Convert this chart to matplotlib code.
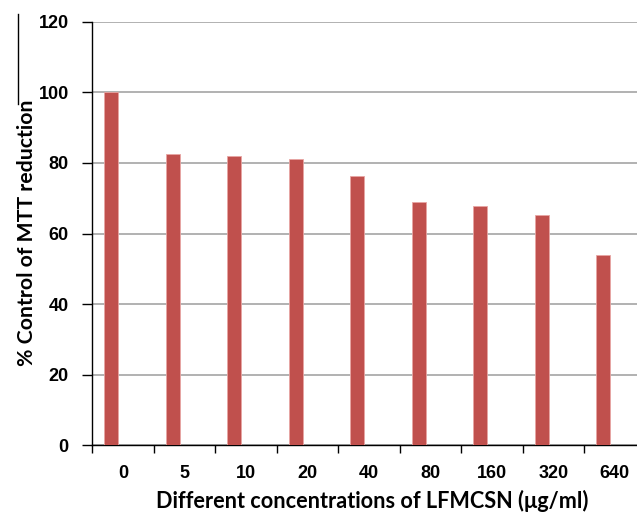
import matplotlib
matplotlib.use("Agg")
import matplotlib.pyplot as plt
import numpy as np

# MTT reduction data
concentrations = ["0", "5", "10", "20", "40", "80", "160", "320", "640"]
mtt_reduction = [100, 82.6, 82.0, 81.1, 76.2, 68.8, 67.9, 65.3, 53.8]
y_ticks = [0, 20, 40, 60, 80, 100, 120]

W, H = 637, 513
fig = plt.figure(figsize=(W / 100, H / 100), dpi=100)

# plot area: left spine at x=92, y=0 at 445 px, y=120 at 22 px; last slot runs past the right edge
left, bottom, top = 92.3 / W, 1 - 445.3 / H, 1 - 21.7 / H
ax = fig.add_axes([left, bottom, 553.2 / W, top - bottom])

xs = np.arange(len(concentrations))
ax.bar(xs - 0.19, mtt_reduction, width=0.23, color="#C0504D",
       edgecolor="#E8A5A3", linewidth=0.6, zorder=3)

ax.set_xlim(-0.5, len(concentrations) - 0.5)
ax.set_ylim(0, 120)
ax.set_yticks(y_ticks)
ax.yaxis.grid(True, color="#ABABAB", linewidth=1.3, zorder=0)

ax.set_xticks(xs)
ax.set_xticklabels(concentrations)
ax.set_xticks(np.arange(len(concentrations)) - 0.5, minor=True)
ax.tick_params(axis="x", which="major", length=0, pad=14)
ax.tick_params(axis="x", which="minor", length=6, width=1, direction="out")
ax.tick_params(axis="y", length=7, width=1, direction="out", pad=10)

tick_font = dict(family="Liberation Sans", weight="bold", size=13)
for lab in ax.get_xticklabels() + ax.get_yticklabels():
    lab.set_fontproperties(matplotlib.font_manager.FontProperties(**tick_font))

for side in ["top", "right"]:
    ax.spines[side].set_visible(False)
ax.spines["left"].set_linewidth(1)
ax.spines["bottom"].set_linewidth(1)

fig.text(372.5 / W, 1 - 501 / H, "Different concentrations of LFMCSN (\u03bcg/ml)",
         ha="center", va="center", family="Lato", weight="bold", fontsize=15.6)
fig.text(27 / W, 1 - 233 / H, "% Control of MTT reduction",
         ha="center", va="center", rotation=90, family="Lato", weight="bold", fontsize=15.3)

# leftover frame edge in the top-left corner of the original
fig.add_artist(plt.Line2D([18 / W, 18 / W], [1 - 14 / H, 1 - 104 / H],
                          color="black", linewidth=1))

fig.savefig("out.png", dpi=100)
